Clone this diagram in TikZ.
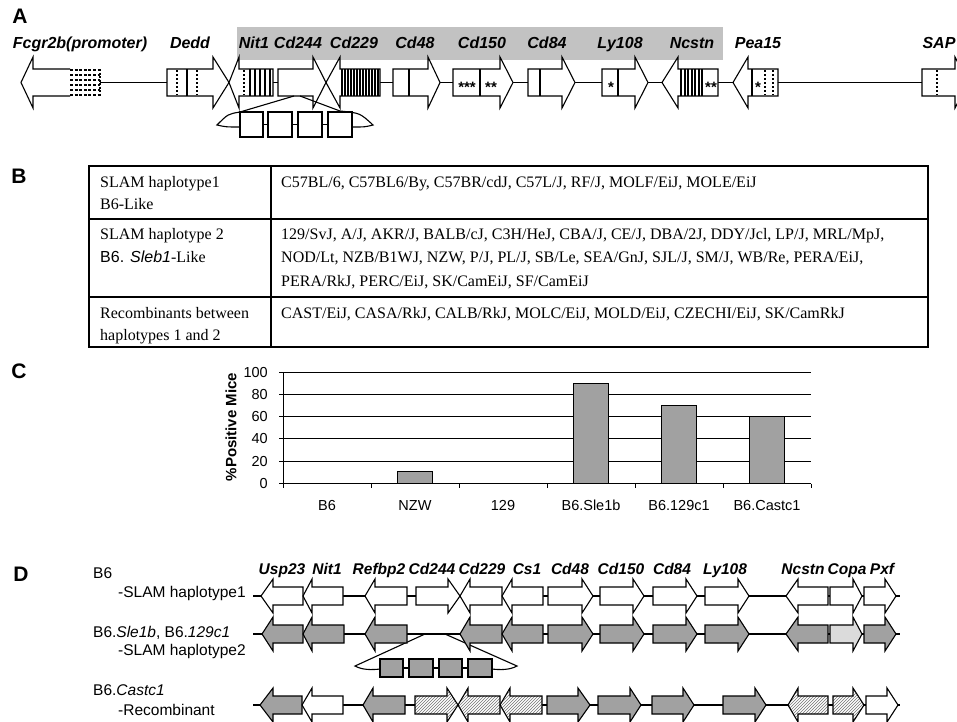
\documentclass[tikz,border=0pt]{standalone}
\usepackage{fontspec}
\setmainfont{Liberation Serif}
\newfontfamily\arial{Liberation Sans}
\usetikzlibrary{patterns}
\newcommand\myfs[1]{\fontsize{#1}{#1}\selectfont}
\newcommand\genR[5][]{\draw[#1] (#2,#5-\bh) -- (#3,#5-\bh) -- (#3,#5-\hh) -- (#4,#5) -- (#3,#5+\hh) -- (#3,#5+\bh) -- (#2,#5+\bh) -- cycle;}
\newcommand\genL[5][]{\draw[#1] (#2,#5) -- (#3,#5-\hh) -- (#3,#5-\bh) -- (#4,#5-\bh) -- (#4,#5+\bh) -- (#3,#5+\bh) -- (#3,#5+\hh) -- cycle;}
\begin{document}
\begin{tikzpicture}[x=1pt,y=-1pt,line join=miter]
\tikzset{
  panel/.style={font=\arial\bfseries\myfs{21}},
  geneA/.style={font=\arial\bfseries\itshape\myfs{16},anchor=base,inner sep=0},
  geneD/.style={font=\arial\bfseries\itshape\myfs{15.5},anchor=base,inner sep=0},
  tabtxt/.style={font=\myfs{16},anchor=base west,inner sep=0},
  dlab/.style={font=\arial\myfs{15.5},anchor=west,inner sep=0},
  startxt/.style={font=\arial\bfseries\myfs{15},inner sep=0},
  gout/.style={line width=1.1pt},
  wfill/.style={gout,fill=white},
  gfill/.style={gout,fill=black!37},
  lfill/.style={gout,fill=black!14},
  hfill/.style={gout,preaction={fill=white},pattern=north east lines,pattern color=black!55},
  bar/.style={line width=1.6pt},
  dotbar/.style={line width=1.9pt,dash pattern=on 2pt off 2pt},
  axnum/.style={font=\arial\myfs{14.5},anchor=east,inner sep=0},
  catlab/.style={font=\arial\myfs{14.5},inner sep=0},
  grid/.style={line width=0.9pt}
}
\useasboundingbox (0,0) rectangle (957,721);
\clip (0,0) rectangle (957,721);
\fill[white] (0,0) rectangle (957,721);

% ================= PANEL A =================
\node[panel] (pA) at (20,16) {A};
\fill[black!24] (237,27) rectangle (723,60);
\node[geneA] (aFcgr) at (80,48.5) {Fcgr2b(promoter)};
\node[geneA] (aDedd) at (190,48.5) {Dedd};
\node[geneA] (aNit) at (254,48.5) {Nit1};
\node[geneA] (aCd244) at (298,48.5) {Cd244};
\node[geneA] (aCd229) at (354,48.5) {Cd229};
\node[geneA] (aCd48) at (415,48.5) {Cd48};
\node[geneA] (aCd150) at (482,48.5) {Cd150};
\node[geneA] (aCd84) at (547,48.5) {Cd84};
\node[geneA] (aLy) at (620,48.5) {Ly108};
\node[geneA] (aNcstn) at (692,48.5) {Ncstn};
\node[geneA] (aPea) at (758,48.5) {Pea15};
\node[geneA] (aSAP) at (939,48.5) {SAP};

\def\bh{13.5}\def\hh{25.5}\def\ya{82.5}
\draw[gout] (100,\ya) -- (957,\ya);
% Fcgr2b
\draw[gout,fill=white] (70,69) -- (33,69) -- (33,57) -- (21,\ya) -- (33,108) -- (33,96) -- (70,96);
\foreach \yy in {70,75,80,85,90,95}
  \draw[line width=2.4pt,dash pattern=on 3pt off 1.6pt] (70,\yy) -- (100,\yy);
\draw[line width=1.2pt,dash pattern=on 2pt off 1.5pt] (100,69) -- (100,96);
% Dedd
\genR[wfill]{167}{213}{229}{\ya}
\draw[dotbar] (177,70) -- (177,95);
\draw[dotbar] (197,70) -- (197,95);
\draw[bar] (187,69) -- (187,96);
% Nit1
\genL[wfill]{229}{239}{273}{\ya}
\draw[dotbar] (244,70) -- (244,95);
\foreach \xx in {250,255,260,265,270} \draw[bar] (\xx,69) -- (\xx,96);
% Cd244
\genR[wfill]{278}{313}{326}{\ya}
% Cd229
\genL[wfill]{326}{340}{380}{\ya}
\foreach \xx in {342,345,...,378} \draw[bar] (\xx,69) -- (\xx,96);
% Cd48
\genR[wfill]{393}{428}{440}{\ya}
\draw[bar] (409,69) -- (409,96);
% Cd150
\genR[wfill]{453}{500}{513}{\ya}
\draw[bar] (480,69) -- (480,96);
\node[startxt] (s150a) at (467,87) {***};
\node[startxt] (s150b) at (491,87) {**};
% Cd84
\genR[wfill]{528}{562}{575}{\ya}
\draw[bar] (540,69) -- (540,96);
% Ly108
\genR[wfill]{602}{635}{648}{\ya}
\draw[bar] (618,69) -- (618,96);
\node[startxt] (sLy) at (611,87) {*};
% Ncstn
\genL[wfill]{662}{678}{718}{\ya}
\foreach \xx in {681,684.5,688,691.5,695,698.5,702} \draw[line width=2pt] (\xx,69) -- (\xx,96);
\node[startxt] (sNc) at (711,87) {**};
% Pea15
\genL[wfill]{733}{748}{778}{\ya}
\draw[bar] (752,69) -- (752,96);
\node[startxt] (sPea) at (758,87) {*};
\draw[dotbar] (765,70) -- (765,95);
\draw[dotbar] (773,70) -- (773,95);
% SAP
\genR[wfill]{922}{955}{968}{\ya}
\draw[dotbar] (937,70) -- (937,95);
% Cd244 exons
\draw[gout] (294,96) -- (240,112);
\draw[gout] (300,96) -- (340,111);
\draw[gout] (240,112) .. controls (228,114) .. (217,125) .. controls (226,127) .. (240,127);
\draw[gout] (340,111) .. controls (360,113) .. (373,125) .. controls (365,127) .. (352,127);
\draw[gout] (263,124.5) -- (328,124.5);
\draw[wfill] (240,112) rectangle (263,137);
\draw[wfill] (268,112) rectangle (292,137);
\draw[wfill] (298,112) rectangle (322,137);
\draw[wfill] (328,112) rectangle (352,137);

% ================= PANEL B =================
\node[panel] (pB) at (19,176) {B};
\draw[line width=1.3pt] (271,166) -- (271,347);
\draw[line width=1.3pt] (89,219) -- (928,219);
\draw[line width=1.3pt] (89,297) -- (928,297);
\draw[line width=2.6pt] (89,166) rectangle (928,347);
\node[tabtxt] (b11) at (100,187.5) {SLAM haplotype1};
\node[tabtxt] (b12) at (100,209.5) {B6-Like};
\node[tabtxt] (b21) at (100,239.5) {SLAM haplotype 2};
\node[tabtxt] (b22) at (100,262.5) {{\arial B6. \itshape Sleb1}-Like};
\node[tabtxt] (b31) at (100,318.5) {Recombinants between};
\node[tabtxt] (b32) at (100,340) {haplotypes 1 and 2};
\node[tabtxt] (c11) at (281,187.5) {C57BL/6, C57BL6/By, C57BR/cdJ, C57L/J, RF/J, MOLF/EiJ, MOLE/EiJ};
\node[tabtxt] (c21) at (281,239.5) {129/SvJ, A/J, AKR/J, BALB/cJ, C3H/HeJ, CBA/J, CE/J, DBA/2J, DDY/Jcl, LP/J, MRL/MpJ,};
\node[tabtxt] (c22) at (281,262.5) {NOD/Lt, NZB/B1WJ, NZW, P/J, PL/J, SB/Le, SEA/GnJ, SJL/J, SM/J, WB/Re, PERA/EiJ,};
\node[tabtxt] (c23) at (281,286.5) {PERA/RkJ, PERC/EiJ, SK/CamEiJ, SF/CamEiJ};
\node[tabtxt] (c31) at (281,318.5) {CAST/EiJ, CASA/RkJ, CALB/RkJ, MOLC/EiJ, MOLD/EiJ, CZECHI/EiJ, SK/CamRkJ};

% ================= PANEL C =================
\node[panel] (pC) at (19,371) {C};
\foreach \v in {20,40,60,80,100}
  \draw[grid] (283,483.5-1.115*\v) -- (811,483.5-1.115*\v);
\foreach \v in {0,20,40,60,80,100} {
  \draw[grid] (279,483.5-1.115*\v) -- (283,483.5-1.115*\v);
  \node[axnum] (n\v) at (268,483.5-1.115*\v) {\v};
}
\draw[grid] (283,372) -- (283,483.5);
\draw[grid] (283,483.5) -- (811,483.5);
\foreach \k in {0,...,6} \draw[grid] (283+88*\k,483.5) -- (283+88*\k,488);
\draw[gout,fill=black!37] (397.5,483.5) rectangle (432.5,471.2);
\draw[gout,fill=black!37] (573.5,483.5) rectangle (608.5,383.15);
\draw[gout,fill=black!37] (661.5,483.5) rectangle (696.5,405.45);
\draw[gout,fill=black!37] (749.5,483.5) rectangle (784.5,416.6);
\node[font=\arial\bfseries\myfs{15},rotate=90] (ytitle) at (231,427) {\%Positive Mice};
\node[catlab] (k1) at (327,505) {B6};
\node[catlab] (k2) at (415,505) {NZW};
\node[catlab] (k3) at (503,505) {129};
\node[catlab] (k4) at (591,505) {B6.Sle1b};
\node[catlab] (k5) at (679,505) {B6.129c1};
\node[catlab] (k6) at (767,505) {B6.Castc1};

% ================= PANEL D =================
\node[panel] (pD) at (21,574) {D};
\node[dlab] (d1) at (93,573) {B6};
\node[dlab] (d2) at (118,593) {-SLAM haplotype1};
\node[dlab] (d3) at (93,633) {B6.\textit{Sle1b}, B6.\textit{129c1}};
\node[dlab] (d4) at (118,651) {-SLAM haplotype2};
\node[dlab] (d5) at (93,690) {B6.\textit{Castc1}};
\node[dlab] (d6) at (118,710) {-Recombinant};
\node[geneD] (gUsp) at (282,574.5) {Usp23};
\node[geneD] (gNit) at (327,574.5) {Nit1};
\node[geneD] (gRef) at (379,574.5) {Refbp2};
\node[geneD] (g244) at (432,574.5) {Cd244};
\node[geneD] (g229) at (482,574.5) {Cd229};
\node[geneD] (gCs1) at (527,574.5) {Cs1};
\node[geneD] (g48) at (570,574.5) {Cd48};
\node[geneD] (g150) at (621,574.5) {Cd150};
\node[geneD] (g84) at (672,574.5) {Cd84};
\node[geneD] (gLy) at (725,574.5) {Ly108};
\node[geneD] (gNc) at (803,574.5) {Ncstn};
\node[geneD] (gCo) at (847,574.5) {Copa};
\node[geneD] (gPx) at (882,574.5) {Pxf};

\def\bh{9}\def\hh{17}
% row 1
\def\yr{596}
\draw[gout] (253,\yr) -- (900,\yr);
\genL[wfill]{261}{273}{303}{\yr}
\genL[wfill]{303}{312}{343}{\yr}
\genL[wfill]{365}{375}{407}{\yr}
\genR[wfill]{416}{448}{460}{\yr}
\genL[wfill]{460}{470}{502}{\yr}
\genL[wfill]{502}{512}{543}{\yr}
\genR[wfill]{548}{582}{593}{\yr}
\genR[wfill]{600}{633}{644}{\yr}
\genR[wfill]{653}{686}{697}{\yr}
\genR[wfill]{705}{738}{749}{\yr}
\genL[wfill]{786}{798}{828}{\yr}
\genR[wfill]{830}{853}{862}{\yr}
\genR[wfill]{864}{885}{896}{\yr}
% row 2
\def\yr{634}
\draw[gout] (253,\yr) -- (900,\yr);
\draw[gout] (425,\yr) -- (355,666) .. controls (362,670) and (372,670) .. (380,669);
\draw[gout] (445,\yr) -- (517,666) .. controls (510,670) and (500,670) .. (492,669);
\draw[gout] (403,668) -- (468,668);
\draw[gfill] (380,659) rectangle (403,677);
\draw[gfill] (409,659) rectangle (433,677);
\draw[gfill] (439,659) rectangle (462,677);
\draw[gfill] (468,659) rectangle (492,677);
\genL[gfill]{262}{273}{303}{\yr}
\genL[gfill]{303}{312}{344}{\yr}
\genL[gfill]{365}{375}{407}{\yr}
\genL[gfill]{460}{470}{502}{\yr}
\genL[gfill]{502}{512}{543}{\yr}
\genR[gfill]{548}{582}{593}{\yr}
\genR[gfill]{600}{633}{644}{\yr}
\genR[gfill]{653}{686}{697}{\yr}
\genR[gfill]{705}{738}{749}{\yr}
\genL[gfill]{786}{798}{828}{\yr}
\genR[lfill]{830}{853}{862}{\yr}
\genR[gfill]{864}{885}{896}{\yr}
% row 3
\def\yr{705}
\draw[gout] (253,\yr) -- (900,\yr);
\genL[gfill]{260}{273}{302}{\yr}
\genL[wfill]{302}{312}{343}{\yr}
\genL[gfill]{363}{373}{405}{\yr}
\genR[hfill]{415}{447}{458}{\yr}
\genL[hfill]{458}{468}{500}{\yr}
\genL[hfill]{500}{510}{542}{\yr}
\genR[gfill]{547}{578}{590}{\yr}
\genR[gfill]{598}{630}{641}{\yr}
\genR[gfill]{652}{683}{694}{\yr}
\genR[gfill]{723}{755}{766}{\yr}
\genL[hfill]{788}{798}{828}{\yr}
\genR[hfill]{833}{853}{864}{\yr}
\genR[wfill]{866}{887}{898}{\yr}
\end{tikzpicture}
\end{document}
